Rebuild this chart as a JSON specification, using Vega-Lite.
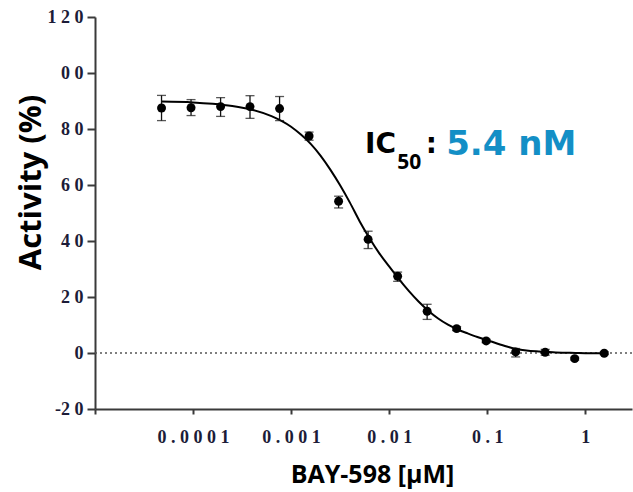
{
  "$schema": "https://vega.github.io/schema/vega-lite/v6.json",
  "width": 537,
  "height": 392,
  "autosize": {"type": "none"},
  "padding": {"left": 95, "top": 17, "right": 1, "bottom": 83},
  "background": "white",
  "config": {
    "view": {"stroke": null},
    "axis": {
      "grid": false,
      "domainColor": "#3a3a3a",
      "domainWidth": 2,
      "tickColor": "#3a3a3a",
      "tickWidth": 2,
      "labelFont": "Liberation Serif",
      "labelFontWeight": "bold",
      "labelFontSize": 18,
      "labelColor": "#1c1c38",
      "titleFont": "Open Sans",
      "titleFontWeight": "bold",
      "titleColor": "#000000"
    }
  },
  "datasets": {
    "measured": [
      {"conc": 0.0000477, "y": 87.5, "lo": 83.0, "hi": 92.0},
      {"conc": 0.0000954, "y": 87.6, "lo": 84.8, "hi": 90.5},
      {"conc": 0.000191, "y": 88.0, "lo": 84.5, "hi": 91.2},
      {"conc": 0.000381, "y": 88.0, "lo": 83.8, "hi": 91.9},
      {"conc": 0.000763, "y": 87.3, "lo": 83.0, "hi": 91.6},
      {"conc": 0.001526, "y": 77.5, "lo": 76.0, "hi": 78.9},
      {"conc": 0.003052, "y": 54.2, "lo": 51.8, "hi": 56.0},
      {"conc": 0.006104, "y": 40.6, "lo": 37.3, "hi": 43.5},
      {"conc": 0.01221, "y": 27.4, "lo": 25.6, "hi": 28.9},
      {"conc": 0.02441, "y": 14.9, "lo": 12.0, "hi": 17.4},
      {"conc": 0.04883, "y": 8.7, "lo": 8.0, "hi": 9.4},
      {"conc": 0.09766, "y": 4.3, "lo": 3.7, "hi": 4.9},
      {"conc": 0.1953, "y": 0.4, "lo": -1.4, "hi": 1.6},
      {"conc": 0.3906, "y": 0.25, "lo": -0.8, "hi": 1.3},
      {"conc": 0.7813, "y": -2.0, "lo": -2.5, "hi": -1.5},
      {"conc": 1.5625, "y": -0.1, "lo": -0.6, "hi": 0.4}
    ],
    "fit": [
      {"conc": 0.0000477, "y": 89.8},
      {"conc": 0.0001, "y": 89.5},
      {"conc": 0.0001585, "y": 89.0},
      {"conc": 0.0002512, "y": 88.2},
      {"conc": 0.0003981, "y": 86.9},
      {"conc": 0.000631, "y": 84.6},
      {"conc": 0.001, "y": 80.8},
      {"conc": 0.001259, "y": 78.0},
      {"conc": 0.001585, "y": 74.7},
      {"conc": 0.001995, "y": 70.5},
      {"conc": 0.002512, "y": 65.5},
      {"conc": 0.003162, "y": 59.9},
      {"conc": 0.003981, "y": 53.7},
      {"conc": 0.005012, "y": 47.0},
      {"conc": 0.00631, "y": 41.0},
      {"conc": 0.007943, "y": 35.6},
      {"conc": 0.01, "y": 30.9},
      {"conc": 0.01259, "y": 26.4},
      {"conc": 0.01585, "y": 22.2},
      {"conc": 0.01995, "y": 18.4},
      {"conc": 0.02512, "y": 15.1},
      {"conc": 0.03162, "y": 12.3},
      {"conc": 0.03981, "y": 10.1},
      {"conc": 0.05012, "y": 8.4},
      {"conc": 0.0631, "y": 7.0},
      {"conc": 0.07943, "y": 5.7},
      {"conc": 0.1, "y": 4.6},
      {"conc": 0.1259, "y": 3.4},
      {"conc": 0.1585, "y": 2.3},
      {"conc": 0.1995, "y": 1.4},
      {"conc": 0.2512, "y": 0.9},
      {"conc": 0.3162, "y": 0.6},
      {"conc": 0.3981, "y": 0.4},
      {"conc": 0.5012, "y": 0.2},
      {"conc": 0.631, "y": 0.1},
      {"conc": 0.7943, "y": 0.0},
      {"conc": 1.0, "y": -0.1},
      {"conc": 1.5625, "y": -0.1}
    ]
  },
  "layer": [
    {
      "data": {"values": [{"base": 0}]},
      "mark": {"type": "rule", "color": "#555555", "strokeWidth": 1.6, "strokeDash": [2, 3]},
      "encoding": {"y": {"field": "base", "type": "quantitative", "title": "Activity (%)"}}
    },
    {
      "data": {"name": "fit"},
      "mark": {"type": "line", "color": "#000000", "strokeWidth": 2, "interpolate": "monotone"},
      "encoding": {
        "x": {
          "field": "conc",
          "type": "quantitative",
          "scale": {"type": "log", "domain": [0.00001, 3], "nice": false},
          "axis": {
            "title": "BAY-598 [µM]",
            "titleFontSize": 25,
            "titleX": 277,
            "titleY": 73,
            "titleBaseline": "alphabetic",
            "values": [0.00001, 0.0001, 0.001, 0.01, 0.1, 1],
            "labelExpr": "datum.value < 0.00005 ? '' : datum.value < 0.0005 ? '0 . 0 0 0 1' : datum.value < 0.005 ? '0 . 0 0 1' : datum.value < 0.05 ? '0 . 0 1' : datum.value < 0.5 ? '0 . 1' : '1'",
            "tickSize": 5,
            "labelBaseline": "top",
            "labelPadding": 14,
            "labelDx": -7,
            "labelFlush": false,
            "labelOverlap": false
          }
        },
        "y": {
          "field": "y",
          "type": "quantitative",
          "scale": {"domain": [-20, 120], "nice": false, "zero": false},
          "axis": {
            "title": "Activity (%)",
            "titleFontSize": 31,
            "titleX": -64,
            "titleY": 165,
            "titleAngle": -90,
            "titleAlign": "center",
            "titleBaseline": "middle",
            "values": [-20, 0, 20, 40, 60, 80, 100, 120],
            "labelExpr": "datum.value == 120 ? '1 2 0' : datum.value == 100 ? '0 0' : datum.value == 80 ? '8 0' : datum.value == 60 ? '6 0' : datum.value == 40 ? '4 0' : datum.value == 20 ? '2 0' : datum.value == 0 ? '0' : '-2 0'",
            "tickSize": 8,
            "labelPadding": 4,
            "labelFlush": false,
            "labelOverlap": false
          }
        }
      }
    },
    {
      "data": {"name": "measured"},
      "mark": {"type": "rule", "color": "#111111", "strokeWidth": 1.3},
      "encoding": {
        "x": {"field": "conc", "type": "quantitative"},
        "y": {"field": "lo", "type": "quantitative", "title": "Activity (%)"},
        "y2": {"field": "hi"}
      }
    },
    {
      "data": {"name": "measured"},
      "mark": {"type": "tick", "orient": "horizontal", "color": "#111111", "size": 9, "thickness": 1.3},
      "encoding": {
        "x": {"field": "conc", "type": "quantitative"},
        "y": {"field": "lo", "type": "quantitative", "title": "Activity (%)"}
      }
    },
    {
      "data": {"name": "measured"},
      "mark": {"type": "tick", "orient": "horizontal", "color": "#111111", "size": 9, "thickness": 1.3},
      "encoding": {
        "x": {"field": "conc", "type": "quantitative"},
        "y": {"field": "hi", "type": "quantitative", "title": "Activity (%)"}
      }
    },
    {
      "data": {"name": "measured"},
      "mark": {"type": "point", "filled": true, "shape": "circle", "size": 80, "color": "#000000", "opacity": 1},
      "encoding": {
        "x": {"field": "conc", "type": "quantitative"},
        "y": {"field": "y", "type": "quantitative", "title": "Activity (%)"}
      }
    },
    {
      "data": {"values": [
        {"conc": 0.00569, "y": 71.3, "txt": "IC"},
        {"conc": 0.0236, "y": 71.3, "txt": ":"}
      ]},
      "mark": {"type": "text", "font": "DejaVu Sans", "fontWeight": "bold", "fontSize": 28, "align": "left", "baseline": "alphabetic", "color": "#000000"},
      "encoding": {
        "x": {"field": "conc", "type": "quantitative"},
        "y": {"field": "y", "type": "quantitative", "title": "Activity (%)"},
        "text": {"field": "txt"}
      }
    },
    {
      "data": {"values": [{"conc": 0.01208, "y": 65.8, "txt": "50"}]},
      "mark": {"type": "text", "font": "Open Sans", "fontWeight": "bold", "fontSize": 21, "align": "left", "baseline": "alphabetic", "color": "#000000"},
      "encoding": {
        "x": {"field": "conc", "type": "quantitative"},
        "y": {"field": "y", "type": "quantitative", "title": "Activity (%)"},
        "text": {"field": "txt"}
      }
    },
    {
      "data": {"values": [{"conc": 0.0382, "y": 70.6, "txt": "5.4 nM"}]},
      "mark": {"type": "text", "font": "DejaVu Sans", "fontWeight": "bold", "fontSize": 34, "align": "left", "baseline": "alphabetic", "color": "#138fc6"},
      "encoding": {
        "x": {"field": "conc", "type": "quantitative"},
        "y": {"field": "y", "type": "quantitative", "title": "Activity (%)"},
        "text": {"field": "txt"}
      }
    }
  ]
}
